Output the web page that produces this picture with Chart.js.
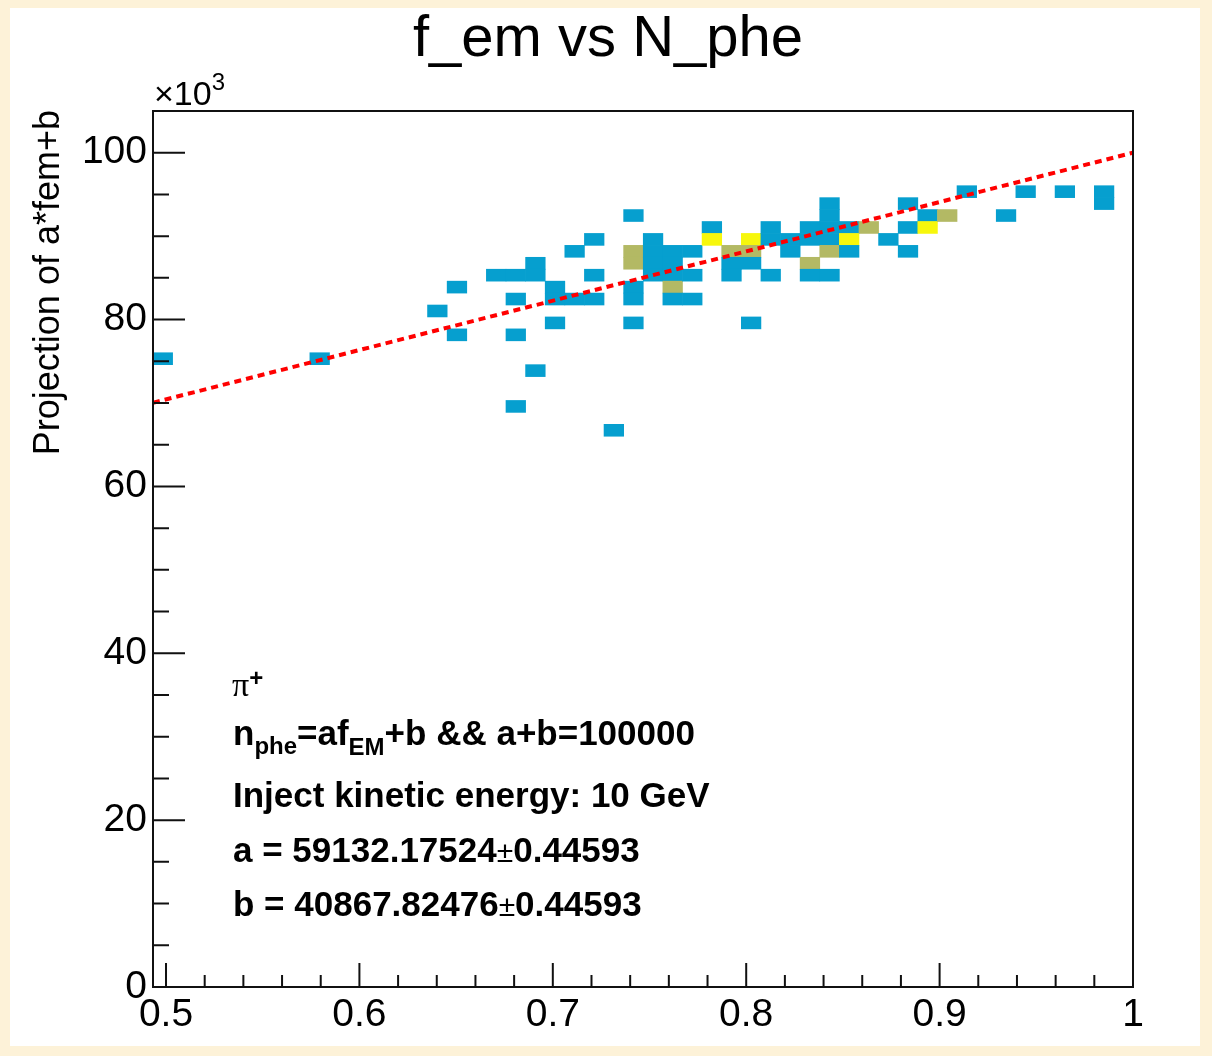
<!DOCTYPE html>
<html>
<head>
<meta charset="utf-8">
<title>f_em vs N_phe</title>
<script src="https://cdn.jsdelivr.net/npm/chart.js@4.4.1/dist/chart.umd.min.js"></script>
<style>
  html, body { margin: 0; padding: 0; background: #fdf2d8; }
  #chart { display: block; }
</style>
</head>
<body>
<canvas id="chart" width="1212" height="1056"></canvas>
<script>
// 2D histogram cells: f_em bin centre, N_phe bin centre (x10^3), entries
const cellFem = [
  0.49834, 0.57946, 0.64030, 0.65044, 0.65044, 0.67072,
  0.68086, 0.68086, 0.68086, 0.68086,
  0.69100, 0.69100, 0.69100,
  0.70114, 0.70114, 0.70114,
  0.71128, 0.71128,
  0.72142, 0.72142, 0.72142,
  0.73156,
  0.74170, 0.74170, 0.74170, 0.74170, 0.74170, 0.74170,
  0.75184, 0.75184, 0.75184, 0.75184,
  0.76198, 0.76198, 0.76198, 0.76198, 0.76198,
  0.77212, 0.77212, 0.77212,
  0.78226, 0.78226,
  0.79240, 0.79240, 0.79240,
  0.80254, 0.80254, 0.80254, 0.80254,
  0.81268, 0.81268, 0.81268,
  0.82282, 0.82282,
  0.83296, 0.83296, 0.83296, 0.83296,
  0.84310, 0.84310, 0.84310, 0.84310, 0.84310, 0.84310,
  0.85324, 0.85324, 0.85324,
  0.86338, 0.87352,
  0.88366, 0.88366, 0.88366,
  0.89380, 0.89380,
  0.90394, 0.91408, 0.93436, 0.94450, 0.96478,
  0.98506, 0.98506
];
const cellNphe = [
  75.31, 75.31, 81.03, 83.89, 78.17, 85.32,
  85.32, 82.46, 78.17, 69.59,
  86.75, 85.32, 73.88,
  83.89, 82.46, 79.60,
  88.18, 82.46,
  89.61, 85.32, 82.46,
  66.73,
  92.47, 88.18, 86.75, 83.89, 82.46, 79.60,
  89.61, 88.18, 86.75, 85.32,
  88.18, 86.75, 85.32, 83.89, 82.46,
  88.18, 85.32, 82.46,
  91.04, 89.61,
  88.18, 86.75, 85.32,
  89.61, 88.18, 86.75, 79.60,
  91.04, 89.61, 85.32,
  89.61, 88.18,
  91.04, 89.61, 86.75, 85.32,
  93.90, 92.47, 91.04, 89.61, 88.18, 85.32,
  91.04, 89.61, 88.18,
  91.04, 89.61,
  93.90, 91.04, 88.18,
  92.47, 91.04,
  92.47, 95.33, 92.47, 95.33, 95.33,
  95.33, 93.90
];
const cellCount = [
  1, 1, 1, 1, 1, 1,
  1, 1, 1, 1,
  1, 1, 1,
  1, 1, 1,
  1, 1,
  1, 1, 1,
  1,
  1, 2, 2, 1, 1, 1,
  1, 1, 1, 1,
  1, 1, 1, 2, 1,
  1, 1, 1,
  1, 3,
  2, 1, 1,
  3, 2, 1, 1,
  1, 1, 1,
  1, 1,
  1, 1, 2, 1,
  1, 1, 1, 1, 2, 1,
  1, 3, 1,
  2, 1,
  1, 1, 1,
  1, 3,
  2, 1, 1, 1, 1,
  1, 1
];

// histogram binning and axis ranges
const binH = 1.43;
const xRange = [0.49327, 1.0];
const yRange = [0, 105];

// fit n_phe = a*f_EM + b
const fitA = 59132.17524;
const fitB = 40867.82476;

// axis tick labels
const xTickLabels = [0.5, 0.6, 0.7, 0.8, 0.9, 1];
const yTickLabels = [0, 20, 40, 60, 80, 100];

// colour for 1, 2, 3 entries
const levelColors = ['#ffffff', '#069fcf', '#b3b964', '#f7f70c'];

const cells = cellFem.map((x, i) => ({ x: x, y: [cellNphe[i] - binH / 2, cellNphe[i] + binH / 2] }));
const fitPoints = xRange.map(x => ({ x: x, y: (fitA * x + fitB) / 1000 }));

const FONT = '"Liberation Sans", Arial, sans-serif';

// draws text pieces one after another (for sub / superscripts)
function drawRuns(ctx, x, y, runs) {
  for (const r of runs) {
    ctx.font = r.font;
    ctx.fillText(r.text, x, y + (r.dy || 0));
    x += ctx.measureText(r.text).width;
  }
}

const rootStyle = {
  id: 'rootStyle',
  beforeDraw(chart) {
    const ctx = chart.ctx;
    ctx.save();
    ctx.fillStyle = '#fdf2d8';
    ctx.fillRect(0, 0, chart.width, chart.height);
    ctx.fillStyle = '#ffffff';
    ctx.fillRect(10, 8, 1190, 1038);
    ctx.restore();
  },
  afterDatasetsDraw(chart) {
    const ctx = chart.ctx;
    const a = chart.chartArea;
    const xs = chart.scales.x;
    const ys = chart.scales.y;
    ctx.save();
    ctx.strokeStyle = '#111';
    ctx.lineWidth = 2;
    ctx.beginPath();
    // x ticks, minor every 0.02
    for (let i = 0; i <= 25; i++) {
      const px = xs.getPixelForValue(0.5 + i * 0.02);
      const len = i % 5 === 0 ? 24 : 12;
      ctx.moveTo(px, a.bottom);
      ctx.lineTo(px, a.bottom - len);
    }
    // y ticks, minor every 5
    for (let i = 0; i <= 21; i++) {
      const py = ys.getPixelForValue(i * 5);
      const len = i % 4 === 0 ? 32 : 16;
      ctx.moveTo(a.left, py);
      ctx.lineTo(a.left + len, py);
    }
    ctx.stroke();
    ctx.strokeRect(a.left, a.top, a.right - a.left, a.bottom - a.top);
    ctx.restore();
  },
  afterDraw(chart) {
    const ctx = chart.ctx;
    ctx.save();
    ctx.fillStyle = '#000';

    // title
    ctx.textAlign = 'center';
    ctx.font = '58px ' + FONT;
    ctx.fillText('f_em vs N_phe', 608, 56);

    // exponent of the y axis
    ctx.textAlign = 'left';
    drawRuns(ctx, 154, 105, [
      { text: '\u00d710', font: '34px ' + FONT },
      { text: '3', font: '24px ' + FONT, dy: -15 }
    ]);

    // y axis title
    ctx.save();
    ctx.translate(59, 110);
    ctx.rotate(-Math.PI / 2);
    ctx.textAlign = 'right';
    ctx.font = '36px ' + FONT;
    ctx.fillText('Projection of a*fem+b', 0, 0);
    ctx.restore();

    // fit text box
    const big = 'bold 35px ' + FONT;
    const sub = 'bold 24px ' + FONT;
    drawRuns(ctx, 232, 696, [
      { text: '\u03c0', font: '34px "Liberation Serif", serif' },
      { text: '+', font: 'bold 24px ' + FONT, dy: -10 }
    ]);
    drawRuns(ctx, 233, 745, [
      { text: 'n', font: big },
      { text: 'phe', font: sub, dy: 9 },
      { text: '=af', font: big },
      { text: 'EM', font: sub, dy: 10 },
      { text: '+b && a+b=100000', font: big }
    ]);
    drawRuns(ctx, 233, 807, [{ text: 'Inject kinetic energy: 10 GeV', font: big }]);
    drawRuns(ctx, 233, 862, [
      { text: 'a = 59132.17524', font: big },
      { text: '\u00b1', font: '30px ' + FONT },
      { text: '0.44593', font: big }
    ]);
    drawRuns(ctx, 233, 916, [
      { text: 'b = 40867.82476', font: big },
      { text: '\u00b1', font: '30px ' + FONT },
      { text: '0.44593', font: big }
    ]);
    ctx.restore();
  }
};

const ctx = document.getElementById('chart').getContext('2d');
const chart = new Chart(ctx, {
  type: 'bar',
  data: {
    datasets: [
      {
        type: 'line',
        label: 'fit',
        data: fitPoints,
        borderColor: '#ff0000',
        borderWidth: 4,
        borderDash: [7, 5],
        pointRadius: 0,
        fill: false,
        order: 0
      },
      {
        type: 'bar',
        label: 'f_em vs N_phe',
        data: cells,
        backgroundColor: c => levelColors[cellCount[c.dataIndex]],
        borderWidth: 0,
        barPercentage: 1,
        categoryPercentage: 1,
        order: 1
      }
    ]
  },
  options: {
    responsive: false,
    animation: false,
    devicePixelRatio: 1,
    layout: { padding: { left: 0, top: 111, right: 79, bottom: 0 } },
    plugins: {
      legend: { display: false },
      tooltip: { enabled: false },
      title: { display: false }
    },
    scales: {
      x: {
        type: 'linear',
        offset: false,
        min: xRange[0],
        max: xRange[1],
        grid: { display: false, drawTicks: false },
        border: { display: false },
        afterBuildTicks: s => { s.ticks = xTickLabels.map(v => ({ value: v })); },
        afterFit: s => { s.height = 69; },
        ticks: {
          autoSkip: false,
          maxRotation: 0,
          padding: 5,
          color: '#000',
          font: { family: FONT, size: 39 },
          callback: v => String(v)
        }
      },
      y: {
        type: 'linear',
        min: yRange[0],
        max: yRange[1],
        grid: { display: false, drawTicks: false },
        border: { display: false },
        afterBuildTicks: s => { s.ticks = yTickLabels.map(v => ({ value: v })); },
        afterFit: s => { s.width = 153; },
        ticks: {
          autoSkip: false,
          padding: 6,
          color: '#000',
          font: { family: FONT, size: 39 },
          callback: v => String(v)
        }
      }
    }
  },
  plugins: [rootStyle]
});
</script>
</body>
</html>
